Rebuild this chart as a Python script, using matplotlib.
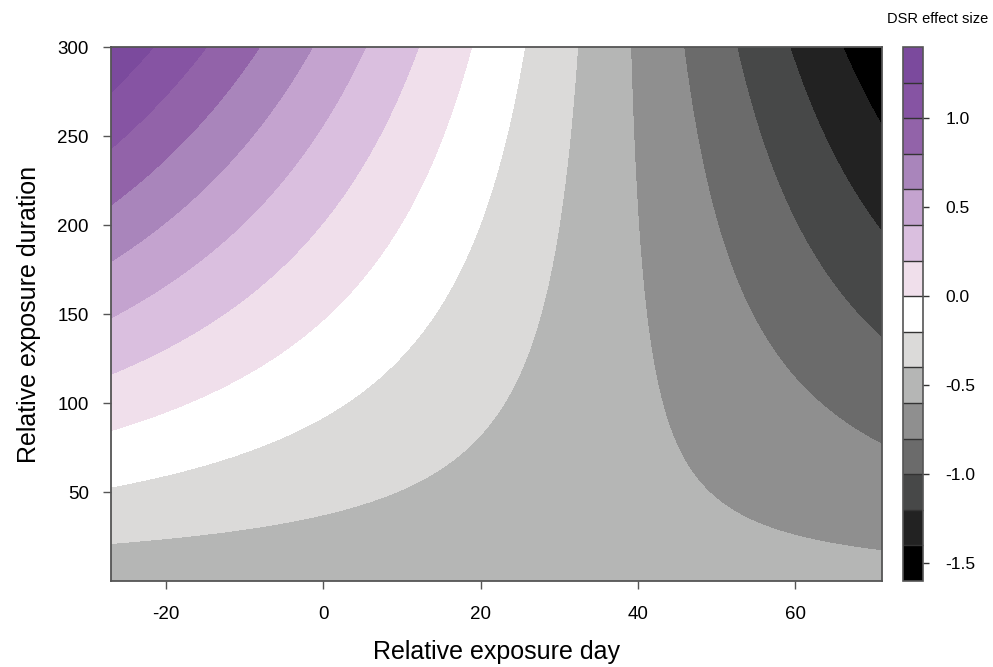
import numpy as np
import matplotlib
matplotlib.use('Agg')
import matplotlib.pyplot as plt
from matplotlib.colors import ListedColormap, BoundaryNorm

plt.rcParams['font.family'] = ['Liberation Sans', 'DejaVu Sans']
plt.rcParams['axes.unicode_minus'] = False

# fitted surface: effect = b0 + b1*day + b2*dur + b3*day*dur
coef_names = ['intercept', 'day', 'duration', 'day:duration']
coef_values = [-0.536, -0.0000986, 0.00365, -0.0000986]

day_range = [-27, 71]
duration_range = [0, 300]

levels = [-1.6, -1.4, -1.2, -1.0, -0.8, -0.6, -0.4, -0.2, 0.0,
          0.2, 0.4, 0.6, 0.8, 1.0, 1.2, 1.4]
band_colors = ['#000000', '#222222', '#474848', '#6b6b6b', '#8f8f8f',
               '#b5b6b5', '#dbdad9', '#ffffff', '#f0dfeb', '#dabfdf',
               '#c4a3cf', '#a985bb', '#9263a9', '#8654a3', '#7b4a9d']

xticks = [-20, 0, 20, 40, 60]
yticks = [50, 100, 150, 200, 250, 300]
cbar_ticks = [-1.5, -1.0, -0.5, 0.0, 0.5, 1.0]

day = np.linspace(day_range[0], day_range[1], 400)
dur = np.linspace(duration_range[0], duration_range[1], 400)
X, Y = np.meshgrid(day, dur)
b0, b1, b2, b3 = coef_values
Z = b0 + b1 * X + b2 * Y + b3 * X * Y

cmap = ListedColormap(band_colors)
norm = BoundaryNorm(levels, cmap.N)

fig = plt.figure(figsize=(9.93, 6.67), dpi=100)
ax = fig.add_axes([0.1118, 0.1289, 0.7764, 0.8006])
cax = fig.add_axes([0.9094, 0.1289, 0.0201, 0.8006])

cs = ax.contourf(X, Y, Z, levels=levels, cmap=cmap, norm=norm)
ax.set_xlim(day_range)
ax.set_ylim(duration_range)
ax.set_xticks(xticks)
ax.set_yticks(yticks)
ax.tick_params(axis='both', labelsize=13.5, length=6, width=1, color='#555555', pad=10)
ax.tick_params(axis='x', pad=12)
for s in ax.spines.values():
    s.set_color('#555555')
    s.set_linewidth(1.3)

ax.set_xlabel('Relative exposure day', fontsize=18, labelpad=12)
ax.set_ylabel('Relative exposure duration', fontsize=18, labelpad=12)

cb = fig.colorbar(cs, cax=cax, drawedges=True)
cb.minorticks_off()
cb.set_ticks(cbar_ticks)
cb.set_ticklabels(['%.1f' % t for t in cbar_ticks])
cb.ax.tick_params(labelsize=12.5, length=4, width=1, color='#333333', pad=12)
cb.outline.set_edgecolor('#555555')
cb.outline.set_linewidth(1.2)
cb.dividers.set_color('#333333')
cb.dividers.set_linewidth(1.0)

fig.text(0.995, 0.972, 'DSR effect size', ha='right', va='center', fontsize=10.5)

plt.savefig('out.png', dpi=100)
